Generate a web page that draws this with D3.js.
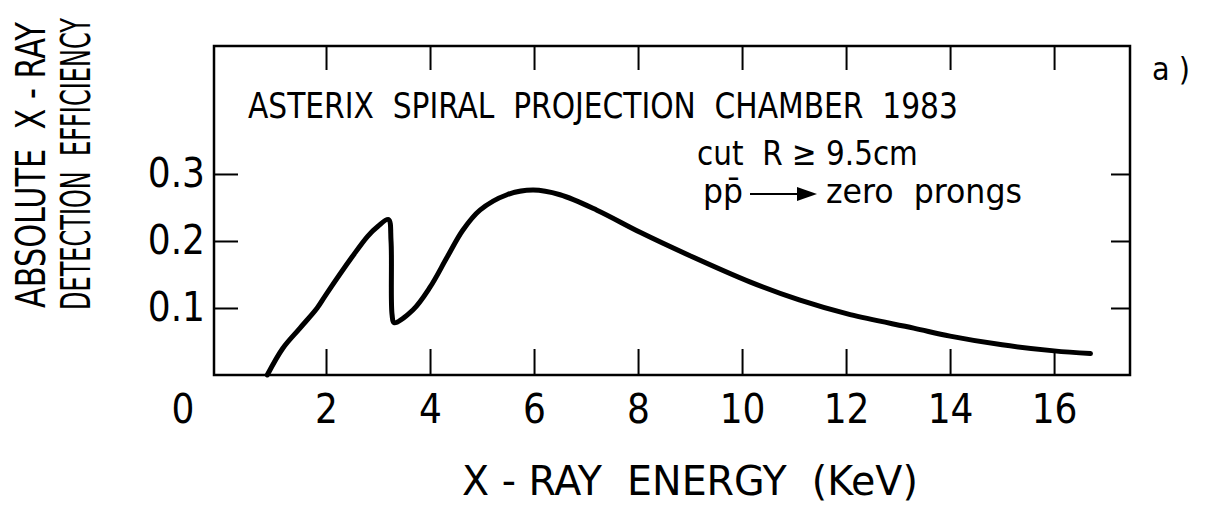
<!DOCTYPE html>
<html>
<head>
<meta charset="utf-8">
<script src="https://cdn.jsdelivr.net/npm/d3@7"></script>
<style>
  body { margin: 0; background: #fff; }
  text { font-family: "DejaVu Sans Condensed", "DejaVu Sans", sans-serif; font-stretch: condensed; fill: #000; white-space: pre; }
</style>
</head>
<body>
<div id="chart"></div>
<script>
// efficiency curve
const energy = [0.87, 1.17, 1.5, 1.83, 2.0, 2.5, 2.8, 3.0, 3.2, 3.25, 3.27, 3.31, 3.67, 4.0, 4.33, 4.63, 4.96, 5.48, 5.98, 6.5, 7.21, 8.04, 9.0, 10.15, 11.1, 12.08, 13.3, 14.0, 15.0, 16.0, 16.7];
const efficiency = [0.0, 0.04, 0.07, 0.10, 0.12, 0.176, 0.207, 0.222, 0.232, 0.2, 0.09, 0.078, 0.097, 0.131, 0.176, 0.216, 0.246, 0.269, 0.276, 0.269, 0.246, 0.213, 0.178, 0.139, 0.112, 0.09, 0.07, 0.058, 0.045, 0.036, 0.032];
const xTicks = [2, 4, 6, 8, 10, 12, 14, 16];
const yTicks = [0.1, 0.2, 0.3];

const width = 1207;
const height = 506;
const margin = { top: 46, right: 77, bottom: 131, left: 214 };

const svg = d3.select("#chart")
  .append("svg")
  .attr("width", width)
  .attr("height", height);

const x = d3.scaleLinear()
  .domain([-0.154, 17.46])
  .range([margin.left, width - margin.right]);

const y = d3.scaleLinear()
  .domain([0, 0.491])
  .range([height - margin.bottom, margin.top]);

// frame
svg.append("rect")
  .attr("x", x.range()[0])
  .attr("y", y.range()[1])
  .attr("width", x.range()[1] - x.range()[0])
  .attr("height", y.range()[0] - y.range()[1])
  .attr("fill", "none")
  .attr("stroke", "#000")
  .attr("stroke-width", 2.5);

function clean(g) {
  g.select(".domain").remove();
  g.selectAll(".tick line").attr("stroke", "#000").attr("stroke-width", 2);
  g.attr("font-family", null);
  g.selectAll(".tick text").attr("font-size", 40).attr("fill", "#000");
}

svg.append("g")
  .attr("transform", `translate(0,${y(0)})`)
  .call(d3.axisBottom(x).tickValues(xTicks).tickSizeInner(-26).tickSizeOuter(0).tickPadding(20))
  .call(clean);

svg.append("g")
  .attr("transform", `translate(0,${y.range()[1]})`)
  .call(d3.axisTop(x).tickValues(xTicks).tickSizeInner(-24).tickSizeOuter(0).tickFormat(""))
  .call(clean);

svg.append("g")
  .attr("transform", `translate(${x.range()[0]},0)`)
  .call(d3.axisLeft(y).tickValues(yTicks).tickSizeInner(-24).tickSizeOuter(0).tickPadding(9).tickFormat(d3.format(".1f")))
  .call(clean);

svg.append("g")
  .attr("transform", `translate(${x.range()[1]},0)`)
  .call(d3.axisRight(y).tickValues(yTicks).tickSizeInner(-19).tickSizeOuter(0).tickFormat(""))
  .call(clean);

// shared zero at the corner
svg.append("text")
  .attr("x", x(0) - 39)
  .attr("y", y(0) + 20)
  .attr("dy", "0.71em")
  .attr("text-anchor", "middle")
  .attr("font-size", 40)
  .text("0");

// curve
const pts = energy.map((e, i) => [e, efficiency[i]]);
svg.append("path")
  .datum(pts)
  .attr("fill", "none")
  .attr("stroke", "#000")
  .attr("stroke-width", 5)
  .attr("stroke-linejoin", "round")
  .attr("stroke-linecap", "round")
  .attr("d", d3.line().x(d => x(d[0])).y(d => y(d[1])).curve(d3.curveCatmullRom.alpha(0.5)));

// squeeze a label to a given length along its baseline
function label(str, px, py, size, len, angle = 0) {
  const t = svg.append("text").attr("font-size", size).text(str);
  const k = len ? len / t.node().getComputedTextLength() : 1;
  t.attr("transform", `translate(${px},${py}) rotate(${angle}) scale(${k},1)`);
  return t;
}

label("ASTERIX  SPIRAL  PROJECTION  CHAMBER  1983", 248, 118, 36, 710);
label("cut  R ≥ 9.5cm", 697, 165, 34, 221);
label("pp\u0304", 703, 203, 34, 40);

svg.append("line")
  .attr("x1", 750).attr("x2", 800)
  .attr("y1", 194).attr("y2", 194)
  .attr("stroke", "#000").attr("stroke-width", 2);
svg.append("path")
  .attr("d", "M797,187 L817,194 L797,201 Z")
  .attr("fill", "#000");

label("zero  prongs", 826, 203, 34, 196);
label("a )", 1152, 80, 32, 38);

// axis titles
label("X - RAY  ENERGY  (KeV)", 462, 495, 41, 456);
label("ABSOLUTE  X - RAY", 45, 308, 41, 286, -90);
label("DETECTION  EFFICIENCY", 90, 310, 41, 292, -90);
</script>
</body>
</html>
